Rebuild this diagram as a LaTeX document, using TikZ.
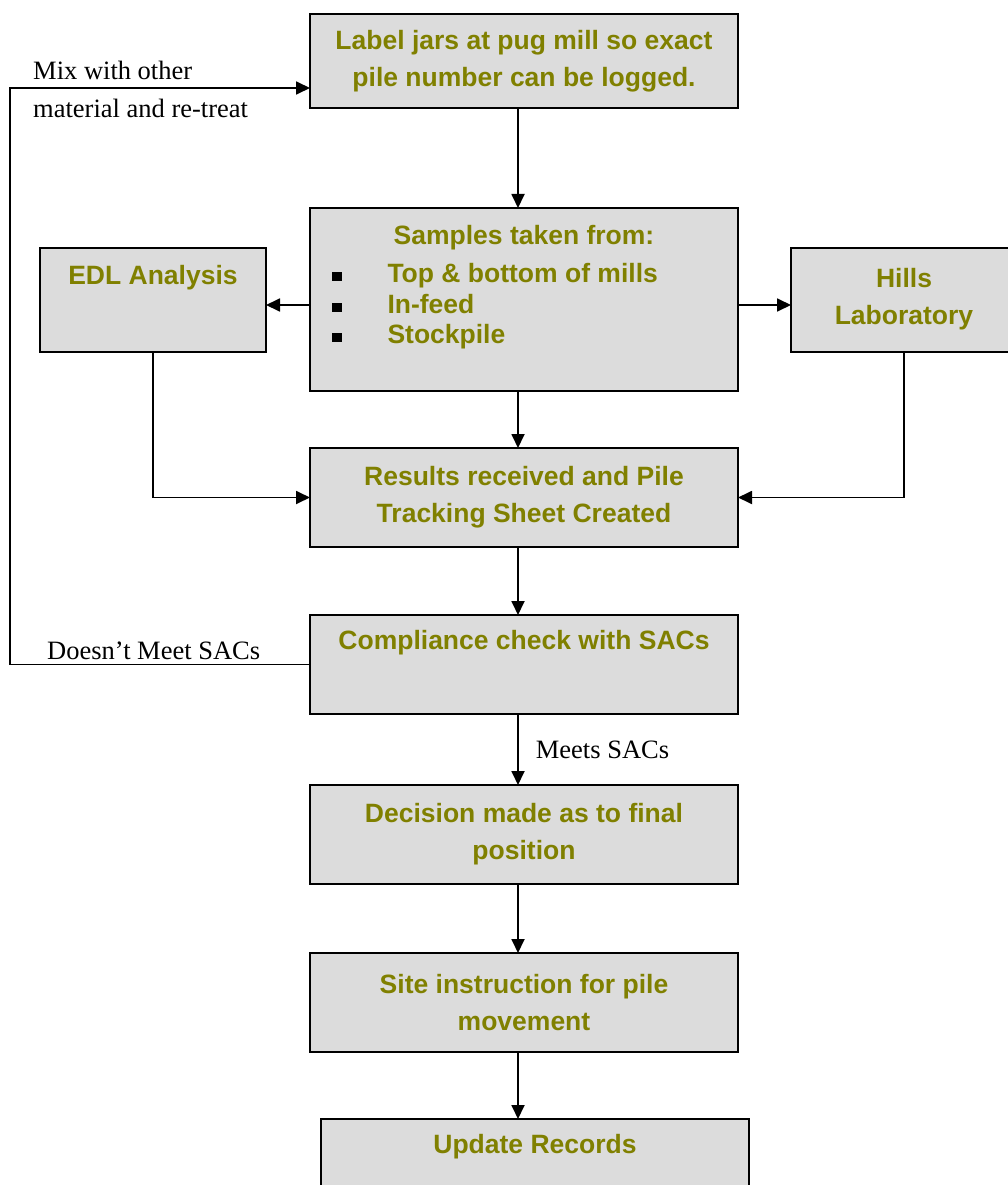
\documentclass[tikz,border=0pt]{standalone}
\usepackage{fontspec}
\setmainfont{Liberation Serif}
\newfontfamily\boxfont{Liberation Sans}
\usetikzlibrary{positioning, arrows.meta}
\definecolor{olivetext}{RGB}{128,128,0}
\definecolor{boxgray}{RGB}{220,220,220}
\newcommand{\sqbullet}{{\color{black}\rule[1pt]{9.5pt}{9.5pt}}}

\begin{document}
\begin{tikzpicture}[x=1pt, y=-1pt, >={Triangle[length=14pt,width=13pt]},
          box/.style ={rectangle, draw=black, line width=2pt, fill=boxgray, text=olivetext, outer sep=0pt,
                       font=\boxfont\bfseries\fontsize{26.5}{37}\selectfont, align=center, inner sep=0pt},
          mainbox/.style={box, minimum width=428pt, minimum height=99pt},
          sidebox/.style={box, minimum width=226pt, minimum height=104pt},
          flow/.style={->, line width=1.8pt},
          note/.style={font=\fontsize{26.5}{38}\selectfont, inner sep=0pt}]
        \useasboundingbox (0,0) rectangle (1008,1185);
        \coordinate (spine) at (518,0);
        \coordinate (side) at (0,305);
        \coordinate (back) at (10,88);
        % main column
        \node[mainbox, minimum height=94pt] (label) at (524,61) {Label jars at pug mill so exact\\pile number can be logged.};
        \node[mainbox, minimum height=183pt, below=100pt of label] (samples)
          {\makebox[384pt]{Samples taken from:}\\[1pt]
           \makebox[384pt][l]{\sqbullet\hspace{46pt}Top \& bottom of mills}\\[-6pt]
           \makebox[384pt][l]{\sqbullet\hspace{46pt}In-feed}\\[-7pt]
           \makebox[384pt][l]{\sqbullet\hspace{46pt}Stockpile}\\[-6pt]
           \mbox{}};
        \node[sidebox, left=44pt of samples] (edl) {EDL Analysis\\[12pt]\mbox{}};
        \node[sidebox, right=53pt of samples] (hills) {Hills\\Laboratory};
        \node[mainbox, below=57pt of samples] (results) {Results received and Pile\\Tracking Sheet Created};
        \node[mainbox, below=68pt of results] (compliance) {Compliance check with SACs\\[12pt]\mbox{}};
        \node[mainbox, below=71pt of compliance] (decision) {Decision made as to final\\position};
        \node[mainbox, below=69pt of decision] (site) {Site instruction for pile\\movement};
        \node[mainbox, below=67pt of site, xshift=11pt] (update) {Update Records\\[12pt]\mbox{}};
        % connectors
        \draw[flow] (label.south -| spine) -- (samples.north -| spine);
        \draw[flow] (samples.west |- side) -- (edl.east |- side);
        \draw[flow] (samples.east |- side) -- (hills.west |- side);
        \draw[flow] (samples.south -| spine) -- (results.north -| spine);
        \draw[flow] (edl.south) |- (results.west);
        \draw[flow] (hills.south) |- (results.east);
        \draw[flow] (results.south -| spine) -- (compliance.north -| spine);
        \draw[flow] (compliance.south -| spine) -- node[note, right=17pt] (meets) {Meets SACs} (decision.north -| spine);
        \draw[flow] (decision.south -| spine) -- (site.north -| spine);
        \draw[flow] (site.south -| spine) -- (update.north -| spine);
        \draw[flow] (compliance.west) -| (back) -- (label.west |- back);
        % loop notes
        \node[note, anchor=base west] (nomeet) at (47,659) {Doesn’t Meet SACs};
        \node[note, anchor=north west, align=left] (mix) at (33,61) {Mix with other\\material and re-treat};
      \end{tikzpicture}
\end{document}
